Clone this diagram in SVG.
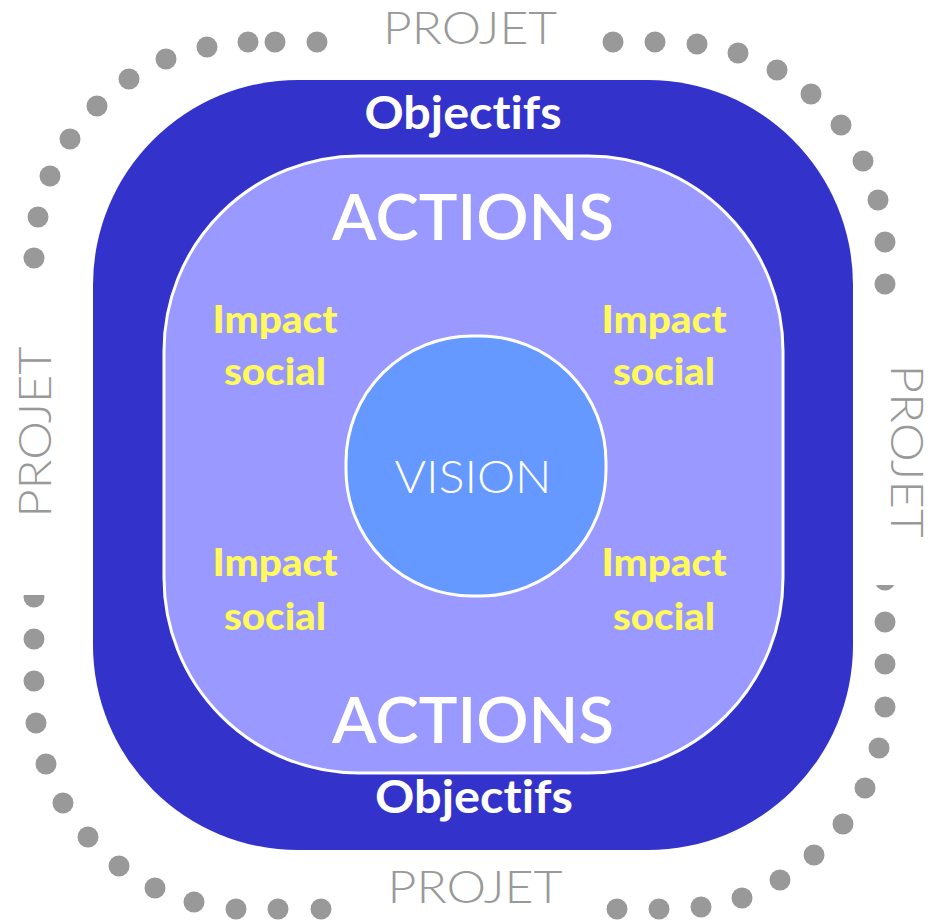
<svg xmlns="http://www.w3.org/2000/svg" width="938" height="921" viewBox="0 0 938 921">
<style>
.dot{fill:#999999}
text{font-variant-ligatures:none}
.projet{font-family:Lato,"Liberation Sans",sans-serif;font-weight:300;font-size:45px;fill:#999999;text-anchor:middle}
.obj{font-family:Lato,"Liberation Sans",sans-serif;font-weight:700;font-size:45px;fill:#ffffff;text-anchor:middle}
.act{font-family:Lato,"Liberation Sans",sans-serif;font-weight:600;font-size:64px;fill:#ffffff;text-anchor:middle}
.imp{font-family:Lato,"Liberation Sans",sans-serif;font-weight:900;font-size:38px;fill:#FFF95B;text-anchor:middle}
.vis{font-family:Lato,"Liberation Sans",sans-serif;font-weight:300;font-size:46px;fill:#ffffff;text-anchor:middle}
</style>
<rect width="938" height="921" fill="#ffffff"/>
<g id="dots">
<circle class="dot" cx="317" cy="42" r="10.5"/>
<circle class="dot" cx="275" cy="42" r="10.5"/>
<circle class="dot" cx="248" cy="42" r="10.5"/>
<circle class="dot" cx="207" cy="47" r="10.5"/>
<circle class="dot" cx="166" cy="59" r="10.5"/>
<circle class="dot" cx="129" cy="79" r="10.5"/>
<circle class="dot" cx="97" cy="106" r="10.5"/>
<circle class="dot" cx="70" cy="139" r="10.5"/>
<circle class="dot" cx="50" cy="176" r="10.5"/>
<circle class="dot" cx="38" cy="217" r="10.5"/>
<circle class="dot" cx="34" cy="258" r="10.5"/>
<circle class="dot" cx="613" cy="42" r="10.5"/>
<circle class="dot" cx="655" cy="42" r="10.5"/>
<circle class="dot" cx="697" cy="44" r="10.5"/>
<circle class="dot" cx="738" cy="53" r="10.5"/>
<circle class="dot" cx="777" cy="70" r="10.5"/>
<circle class="dot" cx="811" cy="94" r="10.5"/>
<circle class="dot" cx="841" cy="125" r="10.5"/>
<circle class="dot" cx="863" cy="161" r="10.5"/>
<circle class="dot" cx="878" cy="200" r="10.5"/>
<circle class="dot" cx="885" cy="242" r="10.5"/>
<circle class="dot" cx="885" cy="284" r="10.5"/>
<circle class="dot" cx="34" cy="597" r="10.5"/>
<circle class="dot" cx="34" cy="639" r="10.5"/>
<circle class="dot" cx="34" cy="681" r="10.5"/>
<circle class="dot" cx="36" cy="723" r="10.5"/>
<circle class="dot" cx="46" cy="764" r="10.5"/>
<circle class="dot" cx="63" cy="803" r="10.5"/>
<circle class="dot" cx="88" cy="837" r="10.5"/>
<circle class="dot" cx="119" cy="866" r="10.5"/>
<circle class="dot" cx="155" cy="888" r="10.5"/>
<circle class="dot" cx="194" cy="902" r="10.5"/>
<circle class="dot" cx="236" cy="909" r="10.5"/>
<circle class="dot" cx="278" cy="909" r="10.5"/>
<circle class="dot" cx="321" cy="909" r="10.5"/>
<circle class="dot" cx="885" cy="580" r="10.5"/>
<circle class="dot" cx="885" cy="622" r="10.5"/>
<circle class="dot" cx="885" cy="664" r="10.5"/>
<circle class="dot" cx="885" cy="707" r="10.5"/>
<circle class="dot" cx="879" cy="748" r="10.5"/>
<circle class="dot" cx="865" cy="788" r="10.5"/>
<circle class="dot" cx="843" cy="824" r="10.5"/>
<circle class="dot" cx="814" cy="855" r="10.5"/>
<circle class="dot" cx="780" cy="880" r="10.5"/>
<circle class="dot" cx="742" cy="898" r="10.5"/>
<circle class="dot" cx="701" cy="907" r="10.5"/>
<circle class="dot" cx="659" cy="909" r="10.5"/>
<circle class="dot" cx="617" cy="909" r="10.5"/>
<rect x="10" y="290" width="60" height="305" fill="#ffffff"/>
<rect x="868" y="300" width="60" height="285" fill="#ffffff"/>
</g>
<g id="projet-labels">
<text class="projet" x="470" y="44" textLength="174" lengthAdjust="spacingAndGlyphs">PROJET</text>
<text class="projet" x="475" y="903" textLength="175" lengthAdjust="spacingAndGlyphs">PROJET</text>
<text class="projet" transform="translate(51 432) rotate(-90)" textLength="171" lengthAdjust="spacingAndGlyphs">PROJET</text>
<text class="projet" transform="translate(891 451) rotate(90)" textLength="173" lengthAdjust="spacingAndGlyphs">PROJET</text>
</g>
<g id="objectifs">
<rect x="93" y="80" width="760" height="770" rx="205" ry="205" fill="#3333CC"/>
<text class="obj" x="463" y="129" textLength="197" lengthAdjust="spacingAndGlyphs">Objectifs</text>
<text class="obj" x="474" y="813" textLength="198" lengthAdjust="spacingAndGlyphs">Objectifs</text>
</g>
<g id="actions">
<rect x="164" y="156" width="619" height="617" rx="195" ry="195" fill="#9999FF" stroke="#ffffff" stroke-width="3"/>
<text class="act" x="473" y="240" textLength="282" lengthAdjust="spacingAndGlyphs">ACTIONS</text>
<text class="act" x="473" y="743" textLength="282" lengthAdjust="spacingAndGlyphs">ACTIONS</text>
</g>
<g id="impact-tl"><text class="imp" x="275" y="333" textLength="125" lengthAdjust="spacingAndGlyphs">Impact</text><text class="imp" x="275" y="385" textLength="102" lengthAdjust="spacingAndGlyphs">social</text></g>
<g id="impact-tr"><text class="imp" x="664" y="333" textLength="125" lengthAdjust="spacingAndGlyphs">Impact</text><text class="imp" x="664" y="385" textLength="102" lengthAdjust="spacingAndGlyphs">social</text></g>
<g id="impact-bl"><text class="imp" x="275" y="576" textLength="125" lengthAdjust="spacingAndGlyphs">Impact</text><text class="imp" x="275" y="630" textLength="102" lengthAdjust="spacingAndGlyphs">social</text></g>
<g id="impact-br"><text class="imp" x="664" y="576" textLength="125" lengthAdjust="spacingAndGlyphs">Impact</text><text class="imp" x="664" y="630" textLength="102" lengthAdjust="spacingAndGlyphs">social</text></g>
<g id="vision">
<rect x="346" y="336" width="260" height="260" rx="126" ry="126" fill="#6699FF" stroke="#ffffff" stroke-width="3"/>
<text class="vis" x="473" y="493" textLength="157" lengthAdjust="spacingAndGlyphs">VISION</text>
</g>
</svg>
